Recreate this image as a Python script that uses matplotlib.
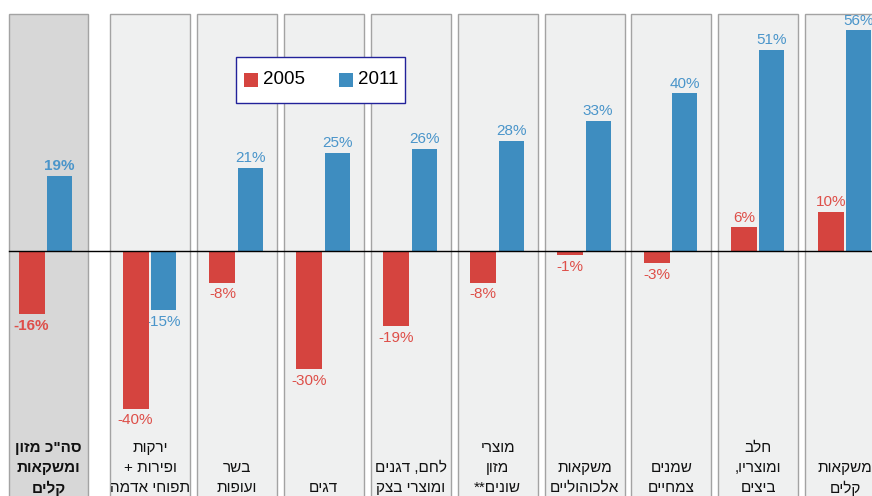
import matplotlib
matplotlib.use('Agg')
import matplotlib.pyplot as plt
from matplotlib.patches import Rectangle

plt.rcParams['font.family'] = ['Liberation Sans', 'DejaVu Sans']

# category labels, one list of lines per panel (first panel = total)
labels = [
    ['סה"כ מזון', 'ומשקאות', 'קלים'],
    ['ירקות', 'ופירות +', 'תפוחי אדמה'],
    ['בשר', 'ועופות'],
    ['דגים'],
    ['לחם, דגנים', 'ומוצרי בצק'],
    ['מוצרי', 'מזון', 'שונים**'],
    ['משקאות', 'אלכוהוליים'],
    ['שמנים', 'צמחיים'],
    ['חלב', 'ומוצריו,', 'ביצים'],
    ['משקאות', 'קלים'],
]
# change in percent
values_2005 = [-16, -40, -8, -30, -19, -8, -1, -3, 6, 10]
values_2011 = [19, -15, 21, 25, 26, 28, 33, 40, 51, 56]
series_names = ['2005', '2011']

RED = '#d5443f'
BLUE = '#3e8dc0'
RED_TXT = '#de4f49'
BLUE_TXT = '#4a95ca'

W, H = 872, 496
ZERO_Y = 251.0      # pixel row of the zero line
PX_PER_PCT = 3.94


def vis(line):
    # no bidi in matplotlib, so hand it the visual (right-to-left) order
    return line[::-1]


def yfrac(px):
    return 1 - px / H


fig = plt.figure(figsize=(W / 100, H / 100), dpi=100)
ax = fig.add_axes([0, 0, 1, 1])
ax.set_xlim(0, W)
ax.set_ylim(-(H - ZERO_Y) / PX_PER_PCT, ZERO_Y / PX_PER_PCT)
ax.axis('off')

n = len(labels)
panel_left = [9] + [110 + 86.9 * k for k in range(n - 1)]
panel_w = [79] + [80] * (n - 1)
top_val = (ZERO_Y - 14) / PX_PER_PCT
bottom_val = ax.get_ylim()[0] - 5

for i in range(n):
    face = '#d7d7d7' if i == 0 else '#eff0f0'
    ax.add_patch(Rectangle((panel_left[i], bottom_val), panel_w[i], top_val - bottom_val,
                           facecolor=face, edgecolor='#a3a3a3', linewidth=1.0, zorder=0))

ax.plot([9, W], [0, 0], color='black', linewidth=1.0, zorder=4)

for i in range(n):
    c = panel_left[i] + 40
    if i == 0:
        c -= 3
    bold = 'bold' if i == 0 else 'normal'
    for val, off, col, tcol, bw in [(values_2005[i], -14.5, RED, RED_TXT, 26),
                                    (values_2011[i], 13.5, BLUE, BLUE_TXT, 25)]:
        x = c + off
        ax.bar(x, val, width=bw, color=col, zorder=3)
        if val >= 0:
            ax.annotate('%d%%' % val, (x, val), xytext=(0, 2), textcoords='offset points',
                        ha='center', va='bottom', color=tcol, fontsize=11,
                        fontweight=bold, zorder=2)
        else:
            ax.annotate('-%d%%' % abs(val), (x, val), xytext=(0, -3.5), textcoords='offset points',
                        ha='center', va='top', color=tcol, fontsize=11,
                        fontweight=bold, zorder=2)
    # category label, bottom aligned
    lines = labels[i]
    for j, line in enumerate(lines):
        ypx = 488 - 20 * (len(lines) - 1 - j)
        ax.text(panel_left[i] + panel_w[i] / 2, yfrac(ypx), vis(line),
                transform=ax.get_xaxis_transform(), ha='center', va='center',
                fontsize=11, fontweight=bold, color='#111111', zorder=5)

# legend box drawn by hand (figure pixel layout)
ft = fig.transFigure
fig.patches.append(Rectangle((236 / W, yfrac(103)), 169 / W, 46 / H, transform=ft,
                             facecolor='white', edgecolor='#22229a', linewidth=1.0, zorder=10))
for k, (name, col) in enumerate(zip(series_names, [RED, BLUE])):
    x0 = 244 + 95 * k
    fig.patches.append(Rectangle((x0 / W, yfrac(87)), 14 / W, 14 / H, transform=ft,
                                 facecolor=col, edgecolor='none', zorder=11))
    fig.text((x0 + 19) / W, yfrac(80), name, ha='left', va='center',
             fontsize=13.5, color='black', zorder=12)

fig.savefig('out.png', dpi=100)
